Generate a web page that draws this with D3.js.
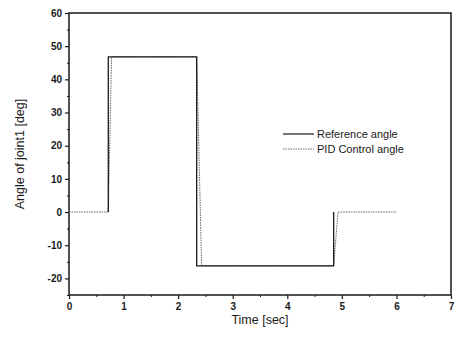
<!DOCTYPE html>
<html>
<head>
<meta charset="utf-8">
<script src="https://cdn.jsdelivr.net/npm/d3@7"></script>
<style>
	body { margin: 0; background: #fff; }
	svg { font-family: "Liberation Sans", Arial, sans-serif; }
</style>
</head>
<body>
<div id="chart"></div>
<script>
	// values
	var refTime = [0.72, 0.72, 2.34, 2.34, 4.85, 4.85];
	var refAngle = [0, 46.8, 46.8, -16.2, -16.2, 0];
	var pidTime = [0, 0.72, 0.78, 2.34, 2.43, 4.85, 4.93, 6.0];
	var pidAngle = [0, 0, 46.8, 46.8, -16.2, -16.2, 0, 0];
	var xTicks = [0, 1, 2, 3, 4, 5, 6, 7];
	var yTicks = [-20, -10, 0, 10, 20, 30, 40, 50, 60];
	var legendLabels = ["Reference angle", "PID Control angle"];

	var width = 456, height = 343;
	var margins = { left: 69, right: 5, top: 13, bottom: 48 };

	var svg = d3.select("#chart").append("svg")
		.attr("width", width)
		.attr("height", height);

	var x = d3.scaleLinear()
		.domain([0, 7])
		.range([margins.left, width - margins.right]);
	var y = d3.scaleLinear()
		.domain([-25, 60])
		.range([height - margins.bottom, margins.top]);

	var ink = "#1a1a1a";
	// plain hyphen for negatives, like the original
	var fmt = function(d) { return String(d); };

	// minor ticks
	var xMinor = d3.range(0.5, 7, 1);
	var yMinor = d3.range(-25, 60, 10);
	svg.append("g")
		.attr("transform", "translate(0," + y(-25) + ")")
		.call(d3.axisBottom(x).tickValues(xMinor).tickSize(2).tickFormat(""))
		.call(function(g) { g.select(".domain").remove(); g.selectAll("line").attr("stroke", ink); });
	svg.append("g")
		.attr("transform", "translate(" + x(0) + ",0)")
		.call(d3.axisLeft(y).tickValues(yMinor).tickSize(2).tickFormat(""))
		.call(function(g) { g.select(".domain").remove(); g.selectAll("line").attr("stroke", ink); });

	// major ticks + labels
	var xAxis = svg.append("g")
		.attr("transform", "translate(0," + y(-25) + ")")
		.call(d3.axisBottom(x).tickValues(xTicks).tickSize(4).tickPadding(4).tickFormat(fmt));
	xAxis.select(".domain").remove();
	xAxis.selectAll("line").attr("stroke", ink).attr("stroke-width", 1.2);
	xAxis.selectAll("text").attr("fill", ink).attr("font-size", 10).attr("font-weight", "bold");

	var yAxis = svg.append("g")
		.attr("transform", "translate(" + x(0) + ",0)")
		.call(d3.axisLeft(y).tickValues(yTicks).tickSize(4).tickPadding(3).tickFormat(fmt));
	yAxis.select(".domain").remove();
	yAxis.selectAll("line").attr("stroke", ink).attr("stroke-width", 1.2);
	yAxis.selectAll("text").attr("fill", ink).attr("font-size", 10).attr("font-weight", "bold");

	// frame
	svg.append("rect")
		.attr("x", x(0))
		.attr("y", y(60))
		.attr("width", x(7) - x(0))
		.attr("height", y(-25) - y(60))
		.attr("fill", "none")
		.attr("stroke", ink)
		.attr("stroke-width", 1.5);

	// series
	var line = d3.line()
		.x(function(d) { return x(d[0]); })
		.y(function(d) { return y(d[1]); });

	svg.append("path")
		.datum(d3.zip(pidTime, pidAngle))
		.attr("fill", "none")
		.attr("stroke", "#666")
		.attr("stroke-width", 1)
		.attr("stroke-dasharray", "1.5,1")
		.attr("d", line);

	svg.append("path")
		.datum(d3.zip(refTime, refAngle))
		.attr("fill", "none")
		.attr("stroke", ink)
		.attr("stroke-width", 1.3)
		.attr("d", line);

	// legend
	var legend = svg.append("g").attr("transform", "translate(283,134)");
	legendLabels.forEach(function(label, i) {
		var row = legend.append("g").attr("transform", "translate(0," + (i * 15) + ")");
		row.append("line")
			.attr("x1", 0).attr("x2", 31)
			.attr("stroke", i === 0 ? ink : "#666")
			.attr("stroke-width", i === 0 ? 1.2 : 1)
			.attr("stroke-dasharray", i === 0 ? null : "1.5,1");
		row.append("text")
			.attr("x", 34)
			.attr("y", 4)
			.attr("fill", ink)
			.style("font-size", "11px")
			.text(label);
	});

	// axis titles
	svg.append("text")
		.attr("x", x(3.5))
		.attr("y", 324)
		.attr("text-anchor", "middle")
		.attr("fill", ink)
		.style("font-size", "12.5px")
		.text("Time [sec]");

	svg.append("text")
		.attr("transform", "translate(24," + y(17.5) + ") rotate(-90)")
		.attr("text-anchor", "middle")
		.attr("fill", ink)
		.style("font-size", "12.5px")
		.text("Angle of joint1 [deg]");
</script>
</body>
</html>
